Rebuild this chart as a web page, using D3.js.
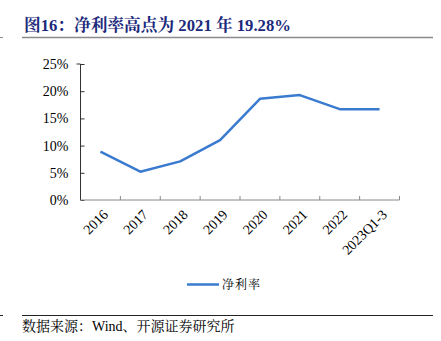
<!DOCTYPE html>
<html>
<head>
<meta charset="utf-8">
<script src="https://cdn.jsdelivr.net/npm/d3@7"></script>
<style>
  html, body { margin: 0; padding: 0; background: #fff; }
  svg { display: block; }
</style>
</head>
<body>
<svg id="chart" width="441" height="341"></svg>
<script>
const categories = ["2016", "2017", "2018", "2019", "2020", "2021", "2022", "2023Q1-3"];
const netMargin = [8.9, 5.2, 7.1, 11.0, 18.6, 19.28, 16.7, 16.7];
const yTicks = [0, 5, 10, 15, 20, 25];
const titleText = "图16：净利率高点为 2021 年 19.28%";
const seriesName = "净利率";
const sourceText = "数据来源：Wind、开源证券研究所";

(function () {
const svg = d3.select("#chart");
const serif = "'Times New Roman', 'Liberation Serif', 'Noto Serif CJK SC', 'Noto Sans CJK SC', serif";
const lineColor = "#3a7bd0";

// Title block
svg.append("text")
  .attr("x", 24).attr("y", 31)
  .attr("font-family", serif)
  .attr("font-size", 16.7).attr("font-weight", "bold")
  .attr("fill", "#1c2a7c")
  .text(titleText);
svg.append("line").attr("x1", 22).attr("x2", 433).attr("y1", 37.5).attr("y2", 37.5)
  .attr("stroke", "#8a8a8a").attr("stroke-width", 1.5);
svg.append("line").attr("x1", 0).attr("x2", 3).attr("y1", 37.5).attr("y2", 37.5)
  .attr("stroke", "#8a8a8a").attr("stroke-width", 1);

// Plot area
const plotLeft = 80.5, plotRight = 399.5, plotTop = 64, plotBottom = 200;
const x = d3.scaleBand().domain(categories).range([plotLeft, plotRight]);
const y = d3.scaleLinear().domain([0, 25]).range([plotBottom, plotTop]);

const yAxis = svg.append("g")
  .attr("transform", `translate(${plotLeft},0)`)
  .call(d3.axisLeft(y).tickValues(yTicks).tickSize(-4).tickPadding(12).tickFormat(d => d + "%"));
yAxis.select(".domain").attr("stroke", "#333").attr("d", `M-4,${plotTop}H0V${plotBottom}`);
yAxis.selectAll(".tick line").attr("stroke", "#333");
yAxis.selectAll("text").attr("font-family", serif).attr("font-size", 14).attr("fill", "#000");

const xAxis = svg.append("g")
  .attr("transform", `translate(0,${plotBottom})`)
  .call(d3.axisBottom(x).tickSize(0).tickPadding(0));
xAxis.select(".domain").attr("stroke", "#888").attr("d", `M${plotLeft},0H${plotRight}V-4`);
xAxis.selectAll(".tick text")
  .attr("font-family", serif).attr("font-size", 14).attr("fill", "#000")
  .attr("text-anchor", "end")
  .attr("transform", "translate(5,12) rotate(-45)")
  .attr("dy", "0.35em");
// Ticks between categories, pointing up into the plot
xAxis.selectAll(".bnd").data(categories.slice(1)).join("line")
  .attr("class", "bnd")
  .attr("x1", d => x(d)).attr("x2", d => x(d))
  .attr("y1", 0).attr("y2", -4)
  .attr("stroke", "#888");

// Series line
const line = d3.line()
  .x((d, i) => x(categories[i]) + x.bandwidth() / 2)
  .y(d => y(d));
svg.append("path").datum(netMargin)
  .attr("d", line)
  .attr("fill", "none")
  .attr("stroke", lineColor)
  .attr("stroke-width", 2.5)
  .attr("stroke-linejoin", "round");

// Legend
svg.append("line").attr("x1", 187).attr("x2", 219).attr("y1", 284.5).attr("y2", 284.5)
  .attr("stroke", lineColor).attr("stroke-width", 2.5);
svg.append("text").attr("x", 222).attr("y", 289)
  .attr("font-family", serif).attr("font-size", 12).attr("letter-spacing", 1).attr("fill", "#000")
  .text(seriesName);

// Source footer
svg.append("line").attr("x1", 22).attr("x2", 433).attr("y1", 315.5).attr("y2", 315.5)
  .attr("stroke", "#222").attr("stroke-width", 1);
svg.append("line").attr("x1", 0).attr("x2", 3).attr("y1", 315.5).attr("y2", 315.5)
  .attr("stroke", "#222").attr("stroke-width", 1);
svg.append("text").attr("x", 22).attr("y", 331)
  .attr("font-family", serif).attr("font-size", 14).attr("fill", "#000")
  .text(sourceText);
})();
</script>
</body>
</html>
